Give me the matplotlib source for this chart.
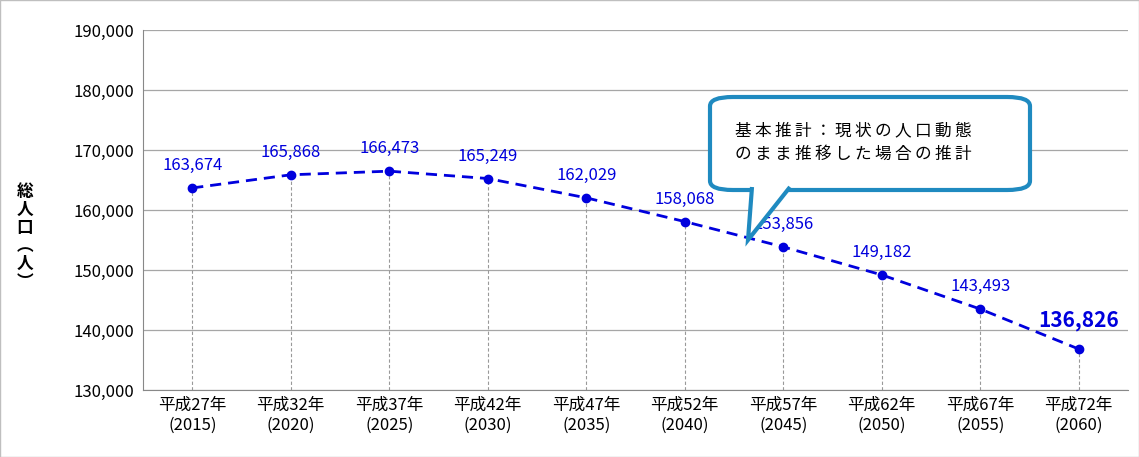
import matplotlib
matplotlib.use('Agg')
import matplotlib.pyplot as plt
from matplotlib.patches import FancyBboxPatch, Polygon

plt.rcParams['font.family'] = ['Noto Sans CJK JP', 'DejaVu Sans']

years = ['平成27年\n(2015)', '平成32年\n(2020)', '平成37年\n(2025)', '平成42年\n(2030)', '平成47年\n(2035)',
         '平成52年\n(2040)', '平成57年\n(2045)', '平成62年\n(2050)', '平成67年\n(2055)', '平成72年\n(2060)']
population = [163674, 165868, 166473, 165249, 162029, 158068, 153856, 149182, 143493, 136826]

W, H = 1139, 457
fig = plt.figure(figsize=(W / 100, H / 100), dpi=100)
ax = fig.add_axes([143 / W, 1 - 390 / H, (1128 - 143) / W, (390 - 30) / H])

x = list(range(len(population)))
ax.set_xlim(-0.5, len(population) - 0.5)
ax.set_ylim(130000, 190000)
ax.set_yticks(range(130000, 190001, 10000))
ax.set_yticklabels([f'{v:,}' for v in range(130000, 190001, 10000)], fontsize=12)
ax.yaxis.grid(True, color='#a6a6a6', linewidth=0.9)
ax.set_axisbelow(True)
for s in ['top', 'right']:
    ax.spines[s].set_visible(False)
ax.spines['left'].set_color('#888888')
ax.spines['bottom'].set_color('#888888')
ax.tick_params(axis='y', length=0, pad=6)
ax.tick_params(axis='x', length=0, pad=5)
ax.set_xticks(x)
ax.set_xticklabels(years, fontsize=12, linespacing=1.2)

ax.vlines(x, 130000, population, colors='#999999', linestyles=(0, (3, 2)), linewidth=0.8)
ax.plot(x, population, color='#0000dd', linestyle=(0, (4, 2.5)), linewidth=2, marker='o', markersize=6)

for i, v in enumerate(population):
    if i == len(population) - 1:
        ax.text(i, v + 3000, f'{v:,}', color='#0000dd', fontsize=15, fontweight='bold', ha='center', va='bottom')
    else:
        ax.text(i, v + 2300, f'{v:,}', color='#0000dd', fontsize=12, ha='center', va='bottom')

fig.text(25 / W, 1 - 237 / H, '総\n人\n口\n︵\n人\n︶', fontsize=12, fontweight='bold',
         ha='center', va='center', linespacing=1.0)

# callout
def fx(px):
    return px / W

def fy(py):
    return 1 - py / H

box = FancyBboxPatch((fx(710), fy(190)), fx(1030) - fx(710), fy(97) - fy(190),
                     boxstyle='round,pad=0,rounding_size=0.02', transform=fig.transFigure,
                     facecolor='white', edgecolor='#1f8ac0', linewidth=3, zorder=5)
fig.add_artist(box)
tail = Polygon([(fx(752), fy(187)), (fx(748), fy(240)), (fx(790), fy(187))], closed=False,
               transform=fig.transFigure, facecolor='white', edgecolor='#1f8ac0', linewidth=3, zorder=6)
fig.add_artist(tail)
sp = '\u2009'
lines = ['基本推計：現状の人口動態', 'のまま推移した場合の推計']
fig.text(fx(735), fy(143), '\n'.join(sp.join(l) for l in lines), fontsize=12,
         va='center', ha='left', linespacing=1.5, zorder=7)

fig.add_artist(plt.Rectangle((0, 0), 1, 1, transform=fig.transFigure, fill=False,
                             edgecolor='#bfbfbf', linewidth=1))
fig.savefig('out.png', dpi=100)
